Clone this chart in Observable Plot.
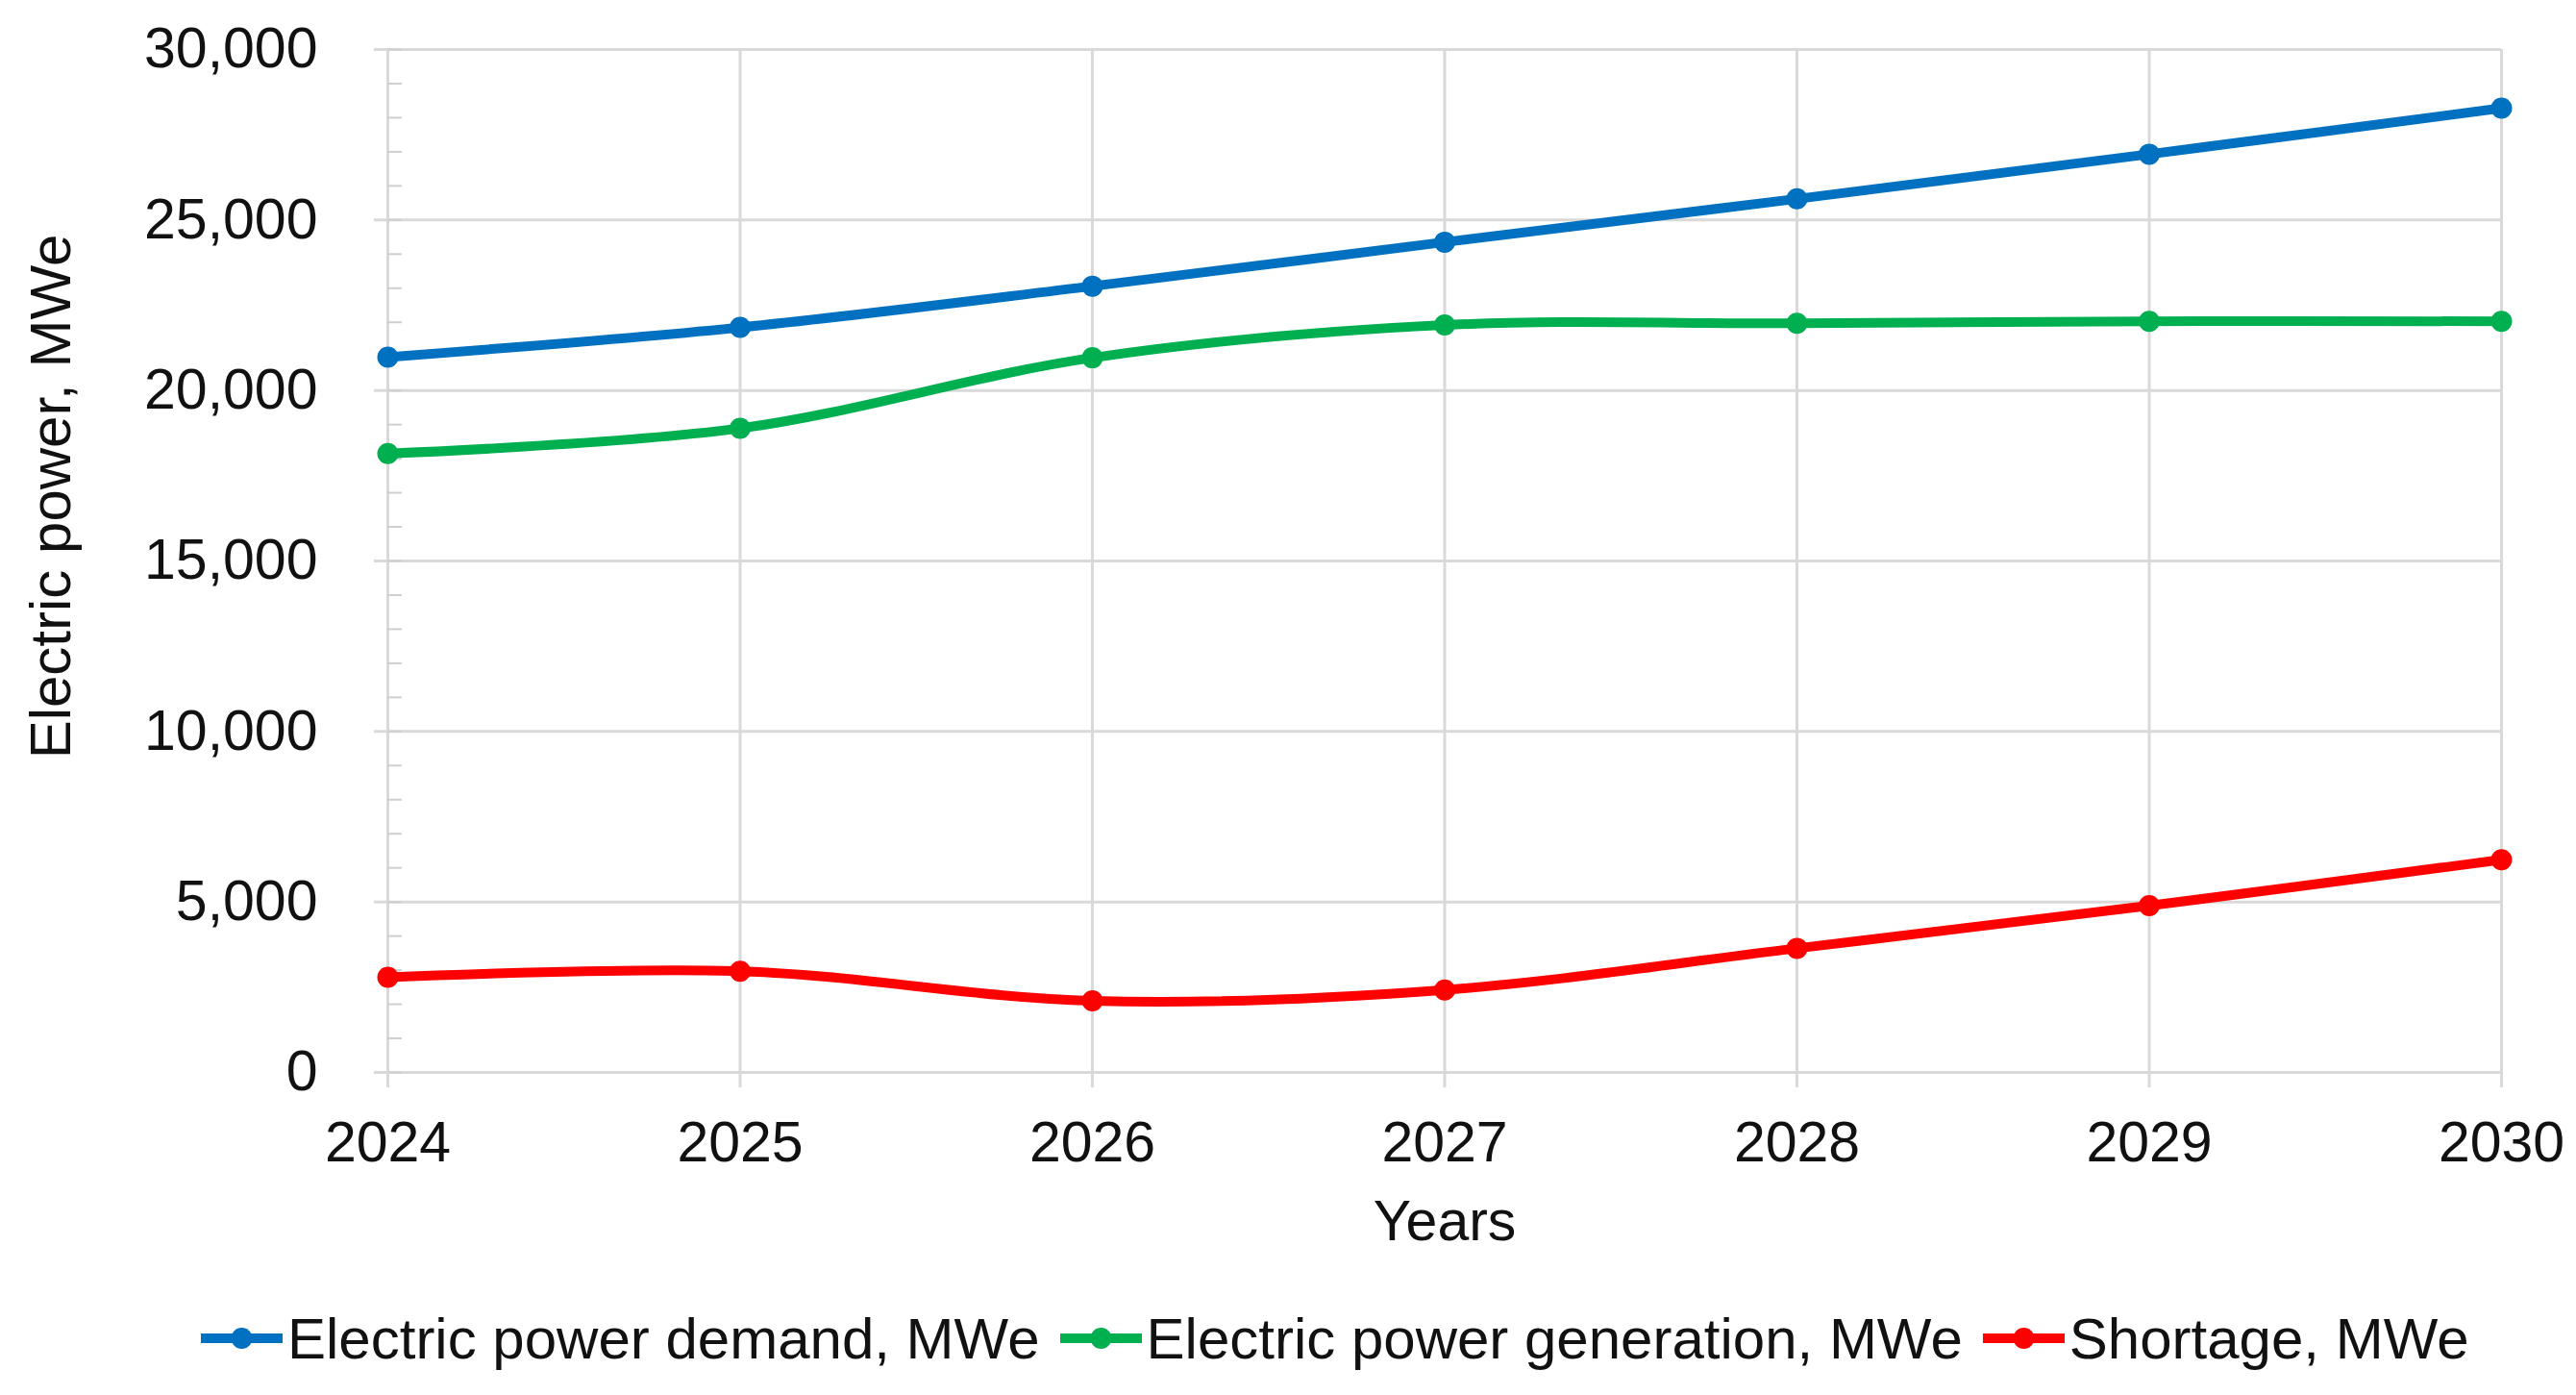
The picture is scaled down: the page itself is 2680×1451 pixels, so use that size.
<!DOCTYPE html>
<html>
<head>
<meta charset="utf-8">
<script src="https://cdn.jsdelivr.net/npm/d3@7"></script>
<script src="https://cdn.jsdelivr.net/npm/@observablehq/plot@0.6"></script>
<style>
  html, body { margin: 0; padding: 0; background: #fff; }
  body { font-family: "Liberation Sans", Arial, sans-serif; width: 2680px; }
  #legend { display: flex; align-items: center; height: 131px; box-sizing: border-box; padding-top: 13px; padding-left: 209px; }
  .item { display: flex; align-items: center; margin-right: 21px; }
  .item span { font-size: 60px; color: #111; margin-left: 5px; white-space: nowrap; }
</style>
</head>
<body>
<div id="chart"></div>
<div id="legend"></div>
<script>
const years = [2024, 2025, 2026, 2027, 2028, 2029, 2030];
const demand = [20980, 21850, 23060, 24350, 25620, 26930, 28280];
const generation = [18150, 18890, 20960, 21920, 21970, 22030, 22030];
const shortage = [2790, 2970, 2100, 2420, 3640, 4890, 6240];
const seriesNames = ["Electric power demand, MWe", "Electric power generation, MWe", "Shortage, MWe"];
const seriesColors = ["#0070C0", "#00B050", "#FF0000"];
const yMajorTicks = [0, 5000, 10000, 15000, 20000, 25000, 30000];
const yMinorTicks = d3.range(0, 30001, 1000);
const xLabel = "Years";
const yLabel = "Electric power, MWe";

const seriesValues = [demand, generation, shortage];
const rows = [];
seriesNames.forEach((name, si) => {
  years.forEach((yr, i) => rows.push({series: name, year: yr, value: seriesValues[si][i]}));
});

const W = 2680, H = 1320;
const mL = 403, mR = 78, mT = 51, mB = 205;
const frameW = W - mL - mR;
const grid = "#d9d9d9";

const chart = Plot.plot({
  width: W,
  height: H,
  marginLeft: mL,
  marginRight: mR,
  marginTop: mT,
  marginBottom: mB,
  style: {fontFamily: "'Liberation Sans', Arial, sans-serif", fontSize: "59px", color: "#111", background: "#fff", overflow: "visible"},
  x: {domain: [2024, 2030], type: "linear"},
  y: {domain: [0, 30000]},
  color: {domain: seriesNames, range: seriesColors},
  marks: [
    Plot.gridY(yMajorTicks, {stroke: grid, strokeOpacity: 1, strokeWidth: 3}),
    Plot.gridX(years, {stroke: grid, strokeOpacity: 1, strokeWidth: 3}),
    Plot.tickY(yMinorTicks, {y: d => d, stroke: "#cfcfcf", strokeWidth: 2, insetRight: frameW - 15}),
    Plot.axisY(yMajorTicks, {tickSize: 14, tickPadding: 59, stroke: grid, strokeWidth: 3, fill: "#111", tickFormat: d3.format(","), fontSize: 59, label: null}),
    Plot.axisX(years, {tickSize: 16, tickPadding: 35, stroke: grid, strokeWidth: 3, fill: "#111", tickFormat: "d", fontSize: 59,
      label: xLabel, labelAnchor: "center", labelOffset: 174, labelArrow: "none"}),
    Plot.line(rows, {x: "year", y: "value", z: "series", stroke: "series", strokeWidth: 10, curve: "catmull-rom"}),
    Plot.dot(rows, {x: "year", y: "value", fill: "series", r: 11}),
    Plot.text([yLabel], {frameAnchor: "left", dx: -331, dy: -67, rotate: -90, fontSize: 60, textAnchor: "middle", lineAnchor: "bottom", fill: "#111"})
  ]
});
document.getElementById("chart").appendChild(chart);

const legend = document.getElementById("legend");
seriesNames.forEach((name, i) => {
  const item = document.createElement("div");
  item.className = "item";
  const ns = "http://www.w3.org/2000/svg";
  const s = document.createElementNS(ns, "svg");
  s.setAttribute("width", 85); s.setAttribute("height", 30);
  const ln = document.createElementNS(ns, "line");
  ln.setAttribute("x1", 0); ln.setAttribute("x2", 85); ln.setAttribute("y1", 15); ln.setAttribute("y2", 15);
  ln.setAttribute("stroke", seriesColors[i]); ln.setAttribute("stroke-width", 10);
  const c = document.createElementNS(ns, "circle");
  c.setAttribute("cx", 42.5); c.setAttribute("cy", 15); c.setAttribute("r", 11); c.setAttribute("fill", seriesColors[i]);
  s.appendChild(ln); s.appendChild(c);
  const t = document.createElement("span");
  t.textContent = name;
  item.appendChild(s); item.appendChild(t);
  legend.appendChild(item);
});
</script>
</body>
</html>
